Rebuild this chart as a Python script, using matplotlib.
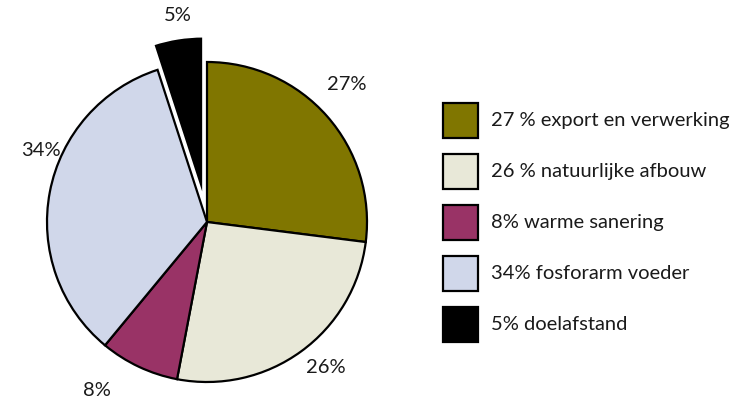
import matplotlib.pyplot as plt
from matplotlib.patches import Rectangle

plt.rcParams['font.family'] = ['Lato', 'DejaVu Sans']

shares = [27, 26, 8, 34, 5]
pct_labels = ['27%', '26%', '8%', '34%', '5%']
legend_labels = ['27 % export en verwerking', '26 % natuurlijke afbouw',
                 '8% warme sanering', '34% fosforarm voeder', '5% doelafstand']
colors = ['#807600', '#e8e8d8', '#993366', '#d0d7ea', '#000000']
explode = [0, 0, 0, 0, 0.16]
# label centres in pie units (radius = 1)
label_pos = [(0.875, 0.86), (0.74, -0.91), (-0.69, -1.05), (-1.04, 0.45), (-0.18, 1.29)]

fig = plt.figure(figsize=(7.41, 4.07), dpi=100)

# pie axes: square, radius 1 maps to ~160 px
lim = 1.35
size = 2 * lim * 160
ax = fig.add_axes([(207 - size / 2) / 741, (185 - size / 2) / 407,
                   size / 741, size / 407])
wedges, texts = ax.pie(shares, colors=colors, explode=explode, startangle=90,
                       counterclock=False, labels=pct_labels, labeldistance=1.2,
                       wedgeprops=dict(edgecolor='black', linewidth=1.6),
                       textprops=dict(fontsize=14.5, color='#1a1a1a'))
wedges[4].set_edgecolor('white')
wedges[4].set_linewidth(1.2)
for t, pos in zip(texts, label_pos):
    t.set_position(pos)
    t.set_ha('center')
    t.set_va('center')
ax.set_xlim(-lim, lim)
ax.set_ylim(-lim, lim)
ax.set_aspect('equal')
ax.axis('off')

# legend drawn as boxes with text
box = 35
for i, (lab, col) in enumerate(zip(legend_labels, colors)):
    top = 103 + i * 51
    fig.patches.append(Rectangle((443 / 741, (407 - top - box) / 407),
                                 box / 741, box / 407, transform=fig.transFigure,
                                 facecolor=col, edgecolor='black', linewidth=1.6))
    fig.text(491 / 741, (407 - top - box / 2) / 407, lab, fontsize=14.5,
             va='center', ha='left', color='#1a1a1a')

fig.savefig('out.png', dpi=100)
